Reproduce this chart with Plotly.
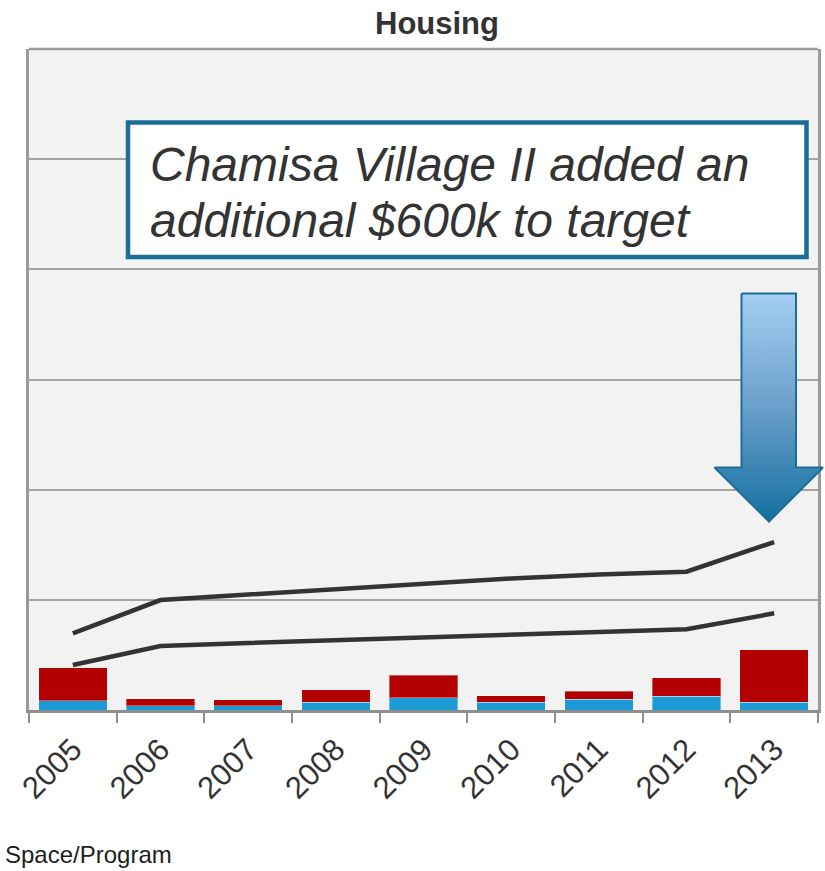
import plotly.graph_objects as go

# Annual housing totals ($k), split into two funding components
years = ["2005", "2006", "2007", "2008", "2009", "2010", "2011", "2012", "2013"]
program_k = [169, 73, 78, 140, 218, 145, 192, 247, 138]
space_k = [599, 132, 109, 225, 417, 114, 152, 339, 956]

# Target bands ($k)
target_high_k = [1392, 1996, 2096, 2196, 2305, 2387, 2459, 2510, 3049]
target_low_k = [817, 1161, 1216, 1270, 1319, 1370, 1416, 1465, 1755]

Y_MAX = 12000
Y_STEP = 2000

W, H = 825, 871
# plot area in page pixels
PX_L, PX_R, PX_T, PX_B = 29, 818, 49, 710

FONT = "Liberation Sans, Arial, sans-serif"
TEXT = "#333333"
GRID = "#A3A3A3"

fig = go.Figure()

fig.add_trace(go.Bar(
    x=years, y=program_k, name="Program",
    marker=dict(color="#1C9AD6", line=dict(color="rgba(255,255,255,0.35)", width=1)),
    xaxis="x", yaxis="y",
))
fig.add_trace(go.Bar(
    x=years, y=space_k, name="Space",
    marker=dict(color="#B30000", line=dict(color="rgba(255,255,255,0.35)", width=1)),
    xaxis="x", yaxis="y",
))
for vals, nm in ((target_high_k, "Target (high)"), (target_low_k, "Target (low)")):
    fig.add_trace(go.Scatter(
        x=years, y=vals, name=nm, mode="lines",
        line=dict(color="#333333", width=4.5),
        xaxis="x", yaxis="y",
    ))

# Block arrow pointing down at the 2013 column, drawn on a page-pixel overlay
ax_l, ax_r = 741.5, 796.0      # shaft sides
head_l, head_r = 714.5, 823.0  # arrowhead wings
a_top, a_neck, a_tip = 293.5, 467.5, 521.5
tip_x = 769.0
arrow_x = [ax_l, ax_r, ax_r, head_r, tip_x, head_l, ax_l, ax_l]
arrow_y = [a_top, a_top, a_neck, a_neck, a_tip, a_neck, a_neck, a_top]
fig.add_trace(go.Scatter(
    x=arrow_x, y=arrow_y, mode="lines", fill="toself",
    line=dict(color="#1C6E98", width=2),
    fillgradient=dict(
        type="vertical",
        colorscale=[[0, "#A4CEF2"], [0.5, "#6A9FCB"], [1, "#14709F"]],
        start=a_top, stop=a_tip,
    ),
    xaxis="x2", yaxis="y2", hoverinfo="skip",
))

x_dom = [PX_L / W, PX_R / W]
y_dom = [1 - PX_B / H, 1 - PX_T / H]

shapes = [
    # plot background
    dict(type="rect", xref="paper", yref="paper",
         x0=x_dom[0], x1=x_dom[1], y0=y_dom[0], y1=y_dom[1],
         fillcolor="#F2F2F2", line=dict(width=0), layer="below"),
    # top border
    dict(type="line", xref="paper", yref="paper",
         x0=x_dom[0], x1=x_dom[1], y0=y_dom[1], y1=y_dom[1],
         line=dict(color="#9A9A9A", width=2.5)),
    # callout box
    dict(type="rect", xref="x2", yref="y2",
         x0=128, x1=806.5, y0=122.5, y1=257,
         fillcolor="white", line=dict(color="#1A6E96", width=4.5)),
]

annotations = [
    dict(text="<b>Housing</b>", xref="paper", yref="paper",
         x=437 / W, y=1 - 23 / H, xanchor="center", yanchor="middle",
         showarrow=False, font=dict(family=FONT, size=31, color=TEXT)),
    dict(text="<i>Chamisa Village II added an</i>", xref="x2", yref="y2",
         x=148, y=164, xanchor="left", yanchor="middle", showarrow=False,
         font=dict(family=FONT, size=48, color=TEXT)),
    dict(text="<i>additional $600k to target</i>", xref="x2", yref="y2",
         x=148, y=220, xanchor="left", yanchor="middle", showarrow=False,
         font=dict(family=FONT, size=48, color=TEXT)),
    dict(text="Space/Program", xref="paper", yref="paper",
         x=3 / W, y=1 - 854 / H, xanchor="left", yanchor="middle",
         showarrow=False, font=dict(family=FONT, size=24, color="#1E1E1E")),
]

fig.update_layout(
    width=W, height=H,
    margin=dict(l=0, r=0, t=0, b=0, autoexpand=False),
    paper_bgcolor="white",
    plot_bgcolor="rgba(0,0,0,0)",
    barmode="stack",
    bargap=0.22,
    showlegend=False,
    shapes=shapes,
    annotations=annotations,
    xaxis=dict(
        domain=x_dom, anchor="y", automargin=False,
        type="category", showgrid=False,
        showline=True, linecolor="#8E8E8E", linewidth=3,
        ticks="outside", tickson="boundaries", ticklen=10, tickwidth=2,
        tickcolor="#8E8E8E", tickangle=-45, ticklabelstandoff=6,
        tickfont=dict(family=FONT, size=31, color=TEXT),
    ),
    yaxis=dict(
        domain=y_dom, anchor="x", automargin=False,
        range=[0, Y_MAX], dtick=Y_STEP, showticklabels=False, ticks="",
        showgrid=True, gridcolor=GRID, gridwidth=2,
        showline=True, mirror=True, linecolor="#9A9A9A", linewidth=2.5,
        zeroline=False,
    ),
    xaxis2=dict(domain=[0, 1], anchor="y2", range=[0, W], visible=False,
                fixedrange=True, automargin=False),
    yaxis2=dict(domain=[0, 1], anchor="x2", range=[H, 0], visible=False,
                fixedrange=True, automargin=False),
)

fig.write_html("out.html")
